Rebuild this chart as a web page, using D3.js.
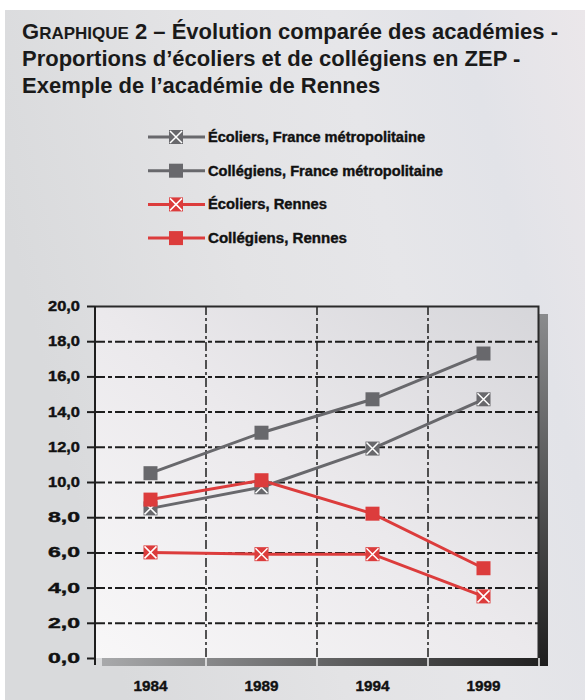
<!DOCTYPE html>
<html>
<head>
<meta charset="utf-8">
<script src="https://cdn.jsdelivr.net/npm/d3@7"></script>
<style>
  body { margin: 0; background: #fff; }
  svg { display: block; }
</style>
</head>
<body>
<div class="chart"></div>
<script>
// data
var years = ["1984", "1989", "1994", "1999"];
var ecoliersFrance = [8.5, 9.7, 11.9, 14.7];
var collegiensFrance = [10.5, 12.8, 14.7, 17.3];
var ecoliersRennes = [6.0, 5.9, 5.9, 3.5];
var collegiensRennes = [9.0, 10.1, 8.2, 5.1];
var yTicks = [0, 2, 4, 6, 8, 10, 12, 14, 16, 18, 20];

var seriesNames = [
  "Écoliers, France métropolitaine",
  "Collégiens, France métropolitaine",
  "Écoliers, Rennes",
  "Collégiens, Rennes"
];

var svgWidth = 585;
var svgHeight = 700;

var margin = { top: 306, right: 46, bottom: 42, left: 95 };
var width = svgWidth - margin.left - margin.right;   // 444
var height = svgHeight - margin.top - margin.bottom; // 352

var grey = "#68686c";
var red = "#dc3c3c";
var condensed = "Liberation Sans Narrow, Arial Narrow, Liberation Sans, sans-serif";

var series = [
  { name: seriesNames[0], values: ecoliersFrance, color: grey, cross: true },
  { name: seriesNames[1], values: collegiensFrance, color: grey, cross: false },
  { name: seriesNames[2], values: ecoliersRennes, color: red, cross: true },
  { name: seriesNames[3], values: collegiensRennes, color: red, cross: false }
];

var svg = d3.select(".chart")
  .append("svg")
  .attr("width", svgWidth)
  .attr("height", svgHeight);

var defs = svg.append("defs");

// page background
var bgGrad = defs.append("linearGradient")
  .attr("id", "bg")
  .attr("x1", "0").attr("y1", "0.3")
  .attr("x2", "1").attr("y2", "0");
bgGrad.append("stop").attr("offset", "0").attr("stop-color", "#d9dadc");
bgGrad.append("stop").attr("offset", "0.35").attr("stop-color", "#e3e3e5");
bgGrad.append("stop").attr("offset", "0.6").attr("stop-color", "#e6e6e9");
bgGrad.append("stop").attr("offset", "0.8").attr("stop-color", "#e2e3e8");
bgGrad.append("stop").attr("offset", "1").attr("stop-color", "#ebe7ea");

var plotGrad = defs.append("linearGradient")
  .attr("id", "plotbg")
  .attr("x1", "0").attr("y1", "1")
  .attr("x2", "1").attr("y2", "0");
plotGrad.append("stop").attr("offset", "0").attr("stop-color", "#f8f7f8");
plotGrad.append("stop").attr("offset", "0.5").attr("stop-color", "#ebe9ec");
plotGrad.append("stop").attr("offset", "1").attr("stop-color", "#d6d6da");

var shadowB = defs.append("linearGradient")
  .attr("id", "shadowB")
  .attr("x1", "0").attr("x2", "1").attr("y1", "0").attr("y2", "0");
shadowB.append("stop").attr("offset", "0").attr("stop-color", "#a8a9ab");
shadowB.append("stop").attr("offset", "1").attr("stop-color", "#1e1e1e");

var shadowR = defs.append("linearGradient")
  .attr("id", "shadowR")
  .attr("x1", "0").attr("x2", "0").attr("y1", "0").attr("y2", "1");
shadowR.append("stop").attr("offset", "0").attr("stop-color", "#8a8b8d");
shadowR.append("stop").attr("offset", "1").attr("stop-color", "#1e1e1e");

svg.append("rect")
  .attr("x", 5).attr("y", 10)
  .attr("width", svgWidth - 5).attr("height", svgHeight - 10)
  .attr("fill", "url(#bg)");

// title
var title = svg.append("text")
  .style("font-family", "Liberation Sans, Arial, sans-serif")
  .style("font-weight", "bold")
  .style("font-size", "22px")
  .attr("fill", "#1a1a1a");

var line1 = title.append("tspan").attr("x", 22).attr("y", 39);
line1.append("tspan").text("G");
line1.append("tspan").style("font-size", "17px").text("RAPHIQUE");
line1.append("tspan").text(" 2 – Évolution comparée des académies -");
title.append("tspan").attr("x", 22).attr("y", 66)
  .text("Proportions d’écoliers et de collégiens en ZEP -");
title.append("tspan").attr("x", 22).attr("y", 93)
  .text("Exemple de l’académie de Rennes");

var chartGroup = svg.append("g")
  .attr("transform", `translate(${margin.left}, ${margin.top})`);

var xBandScale = d3.scaleBand()
  .domain(years)
  .range([0, width]);

var yLinearScale = d3.scaleLinear()
  .domain([0, 20])
  .range([height, 0]);

// shadow under the plot frame
chartGroup.append("rect")
  .attr("x", 7).attr("y", height)
  .attr("width", width + 2).attr("height", 8)
  .attr("fill", "url(#shadowB)");
chartGroup.append("rect")
  .attr("x", width).attr("y", 8)
  .attr("width", 9).attr("height", height)
  .attr("fill", "url(#shadowR)");

chartGroup.append("rect")
  .attr("width", width).attr("height", height)
  .attr("fill", "url(#plotbg)");

// horizontal gridlines
var gridY = d3.axisLeft(yLinearScale)
  .tickValues(yTicks.slice(1, -1))
  .tickSize(-width)
  .tickFormat("");
chartGroup.append("g")
  .call(gridY)
  .call(g => g.select(".domain").remove())
  .selectAll("line")
  .attr("stroke", "#1e1e1e")
  .attr("stroke-width", 2)
  .attr("stroke-dasharray", "10,3,4,3");

// vertical gridlines between categories
var bounds = years.slice(1).map(d => xBandScale(d));
chartGroup.selectAll(".vgrid")
  .data(bounds)
  .enter()
  .append("line")
  .attr("class", "vgrid")
  .attr("x1", d => d).attr("x2", d => d)
  .attr("y1", 0).attr("y2", height)
  .attr("stroke", "#1e1e1e")
  .attr("stroke-width", 1.5)
  .attr("stroke-dasharray", "9,3,3,3");

// small white ticks in the bottom shadow
chartGroup.selectAll(".wtick")
  .data(bounds.concat([width]))
  .enter()
  .append("line")
  .attr("x1", d => d).attr("x2", d => d)
  .attr("y1", height).attr("y2", height + 8)
  .attr("stroke", "#f4f4f4")
  .attr("stroke-width", 1.5);

// frame top and right
chartGroup.append("path")
  .attr("d", `M0,0.5H${width - 0.5}V${height}`)
  .attr("fill", "none")
  .attr("stroke", "#2a2a2a")
  .attr("stroke-width", 2);

// y axis
var leftAxis = d3.axisLeft(yLinearScale)
  .tickValues(yTicks)
  .tickSize(8)
  .tickPadding(7)
  .tickFormat(d => d3.format(".1f")(d).replace(".", ","));

var yAxis = chartGroup.append("g").call(leftAxis);
yAxis.select(".domain").remove();
yAxis.selectAll("line").attr("stroke", "#1e1e1e").attr("stroke-width", 2);
yAxis.selectAll("text")
  .attr("fill", "#111")
  .attr("stroke", "#111")
  .attr("stroke-width", 0.4)
  .style("font-family", condensed)
  .style("font-weight", "bold")
  .style("font-size", "14px")
  .attr("textLength", 32)
  .attr("lengthAdjust", "spacingAndGlyphs");

chartGroup.append("line")
  .attr("x1", 0).attr("x2", 0)
  .attr("y1", 0).attr("y2", height + 7)
  .attr("stroke", "#1e1e1e")
  .attr("stroke-width", 2);

// x labels
var bottomAxis = d3.axisBottom(xBandScale).tickSize(0).tickPadding(22);
var xAxis = chartGroup.append("g")
  .attr("transform", `translate(0, ${height})`)
  .call(bottomAxis);
xAxis.select(".domain").remove();
xAxis.selectAll("text")
  .attr("fill", "#111")
  .attr("stroke", "#111")
  .attr("stroke-width", 0.4)
  .style("font-family", condensed)
  .style("font-weight", "bold")
  .style("font-size", "15px")
  .attr("textLength", 34)
  .attr("lengthAdjust", "spacingAndGlyphs");

// lines and markers
var lineGen = d3.line()
  .x((d, i) => xBandScale(years[i]) + xBandScale.bandwidth() / 2)
  .y(d => yLinearScale(d));

function drawMarker(g, cx, cy, s) {
  g.append("rect")
    .attr("x", cx - 7).attr("y", cy - 7)
    .attr("width", 14).attr("height", 14)
    .attr("fill", s.color);
  if (s.cross) {
    g.append("path")
      .attr("d", `M${cx - 6},${cy - 6}L${cx + 6},${cy + 6}M${cx + 6},${cy - 6}L${cx - 6},${cy + 6}`)
      .attr("stroke", "#fff")
      .attr("stroke-width", 1.5);
  }
}

series.forEach(function(s) {
  chartGroup.append("path")
    .attr("d", lineGen(s.values))
    .attr("fill", "none")
    .attr("stroke", s.color)
    .attr("stroke-width", 3);
});

series.forEach(function(s) {
  var mg = chartGroup.append("g");
  s.values.forEach(function(v, i) {
    drawMarker(mg, xBandScale(years[i]) + xBandScale.bandwidth() / 2, yLinearScale(v), s);
  });
});

// legend
var legendWidths = [217, 235, 119, 139];
var legend = svg.append("g").attr("transform", "translate(148, 137)");
series.forEach(function(s, i) {
  var row = legend.append("g").attr("transform", `translate(0, ${i * 33.7})`);
  row.append("line")
    .attr("x1", 0).attr("x2", 57)
    .attr("y1", 0).attr("y2", 0)
    .attr("stroke", s.color)
    .attr("stroke-width", 3);
  drawMarker(row, 28, 0, s);
  row.append("text")
    .attr("x", 60)
    .attr("y", 5)
    .attr("fill", "#111")
    .attr("stroke", "#111")
    .attr("stroke-width", 0.4)
    .style("font-family", condensed)
    .style("font-weight", "bold")
    .style("font-size", "14px")
    .attr("textLength", legendWidths[i])
    .attr("lengthAdjust", "spacingAndGlyphs")
    .text(s.name);
});
</script>
</body>
</html>
